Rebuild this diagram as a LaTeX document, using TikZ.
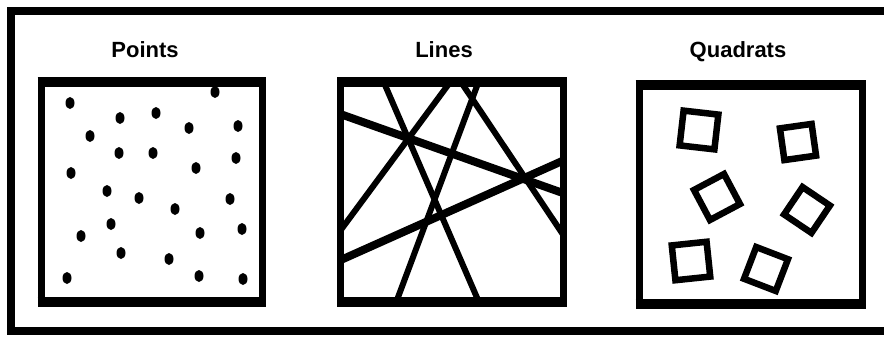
\documentclass[tikz,border=0pt]{standalone}
\usepackage{fontspec}
\setmainfont{Liberation Sans}
\usetikzlibrary{shapes.geometric}
\begin{document}
\begin{tikzpicture}[x=1pt,y=-1pt,
  frame/.style={line width=8pt},
  panel/.style={draw, line width=7pt, minimum width=#1, minimum height=219pt, inner sep=0pt, outer sep=0pt},
  panel/.default=222pt,
  thickedge/.style={line width=10pt, shorten <=-3.5pt, shorten >=-3.5pt},
  title/.style={font=\bfseries\fontsize{22}{24}\selectfont, anchor=base, inner sep=0pt},
  dot/.style={ellipse, fill=black, minimum width=9pt, minimum height=12pt, inner sep=0pt},
  thinln/.style={line width=6pt, shorten <=-8pt, shorten >=-8pt},
  thickln/.style={line width=8pt, shorten <=-8pt, shorten >=-8pt},
  quad/.style={draw, line width=6.5pt, minimum size=#1, inner sep=0pt},
  quad/.default=32pt]
\useasboundingbox (0,0) rectangle (884,337);
% outer frame (open at the right)
\coordinate (f1) at (884,11);
\coordinate (f2) at (11,11);
\coordinate (f3) at (11,331);
\coordinate (f4) at (884,331);
\draw[frame] (f1) -- (f2) -- (f3) -- (f4);
% titles
\node[title] (t1) at (145,58) {Points};
\node[title] (t2) at (444,58) {Lines};
\node[title] (t3) at (738,58) {Quadrats};
% panels
\node[panel=221pt] (p1) at (151.5,192) {};
\node[panel=223pt] (p2) at (452,192) {};
\node[panel=223pt] (p3) at (750.5,194.5) {};
\foreach \p in {p1,p2,p3}{
  \draw[thickedge] (\p.north west) -- (\p.north east);
  \draw[thickedge] (\p.south west) -- (\p.south east);
}
% points
\foreach \x/\y [count=\i] in {215/92, 70/103, 120/118, 156/113, 189/128, 238/126,
  90/136, 119/153, 153/153, 196/168, 236/158, 71/173, 107/191, 139/198,
  175/209, 230/199, 111/224, 81/236, 200/233, 242/229, 121/253, 169/259,
  67/278, 199/276, 243/279}
  \node[dot] (d\i) at (\x,\y) {};
% lines
\begin{scope}
  \clip (p2.north west) rectangle (p2.south east);
  \coordinate (a1) at (385,85);  \coordinate (a2) at (478,300);
  \coordinate (b1) at (343,227); \coordinate (b2) at (448,85);
  \coordinate (c1) at (397,300); \coordinate (c2) at (477,86);
  \coordinate (e1) at (463,85);  \coordinate (e2) at (560,230);
  \coordinate (g1) at (343,115); \coordinate (g2) at (560,192);
  \coordinate (h1) at (343,259); \coordinate (h2) at (560,162);
  \draw[thinln] (a1) -- (a2);
  \draw[thinln] (b1) -- (b2);
  \draw[thinln] (c1) -- (c2);
  \draw[thinln] (e1) -- (e2);
  \draw[thickln] (g1) -- (g2);
  \draw[thickln] (h1) -- (h2);
\end{scope}
% quadrats
\node[quad=35pt, rotate=-6.5] (q1) at (699,130) {};
\node[quad=32pt, rotate=8] (q2) at (798,142) {};
\node[quad=34pt, rotate=28] (q3) at (717,197) {};
\node[quad=33pt, rotate=-34] (q4) at (807,210) {};
\node[quad=35pt, rotate=6] (q5) at (691,261) {};
\node[quad=34pt, rotate=-21] (q6) at (766,269) {};
\end{tikzpicture}
\end{document}
